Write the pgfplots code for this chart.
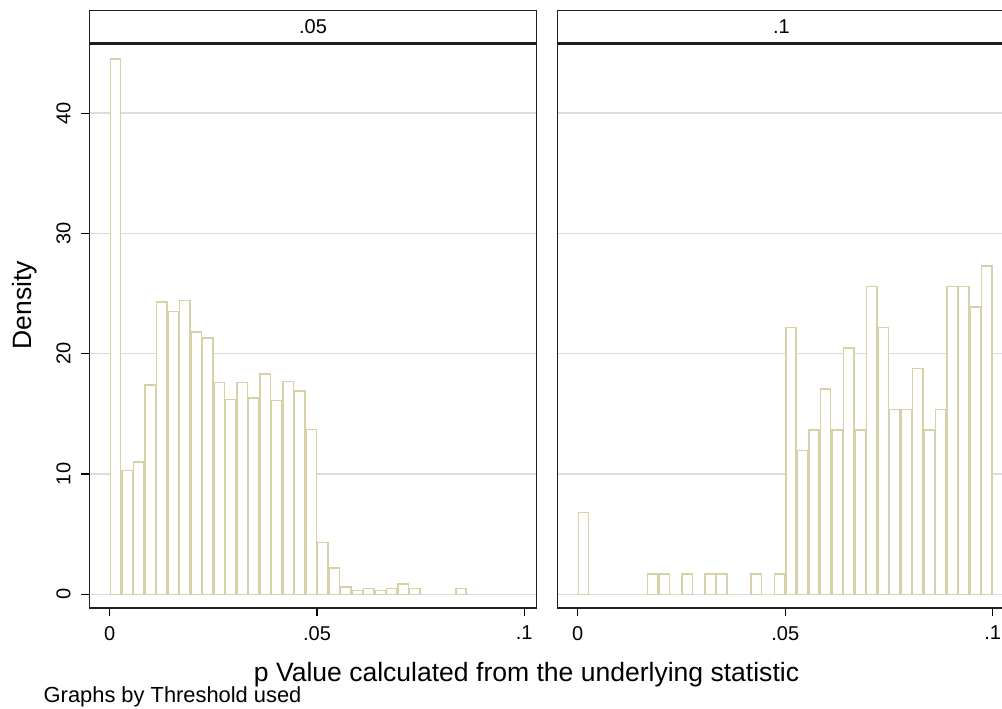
\documentclass[border=0pt]{standalone}
\usepackage{fontspec}
\setmainfont{Liberation Sans}
\usepackage{pgfplots}
\pgfplotsset{compat=1.18}
\usepackage{pgfplotstable}
\definecolor{barline}{RGB}{214,209,166}
\definecolor{gridc}{RGB}{220,220,220}
\definecolor{framec}{RGB}{30,30,30}

\pgfplotstableread{
x y
0.001389 44.5
0.004167 10.3
0.006944 11.0
0.009722 17.4
0.012500 24.3
0.015278 23.5
0.018056 24.4
0.020833 21.8
0.023611 21.3
0.026389 17.6
0.029167 16.2
0.031944 17.6
0.034722 16.3
0.037500 18.3
0.040278 16.1
0.043056 17.7
0.045833 16.9
0.048611 13.7
0.051389 4.3
0.054167 2.2
0.056944 0.6
0.059722 0.33
0.062500 0.47
0.065278 0.33
0.068056 0.47
0.070833 0.86
0.073611 0.47
0.084722 0.47
}\lefttab

\pgfplotstableread{
x y
0.001389 6.82
0.018056 1.705
0.020833 1.705
0.026389 1.705
0.031944 1.705
0.034722 1.705
0.043056 1.705
0.048611 1.705
0.051389 22.17
0.054167 11.94
0.056944 13.64
0.059722 17.05
0.062500 13.64
0.065278 20.46
0.068056 13.64
0.070833 25.58
0.073611 22.17
0.076389 15.35
0.079167 15.35
0.081944 18.76
0.084722 13.64
0.087500 15.35
0.090278 25.58
0.093056 25.58
0.095833 23.87
0.098611 27.28
}\righttab

\pgfplotsset{
  panel/.style={
    scale only axis, width=335.55pt, height=423pt,
    xmax=0.1030, ymin=-1.14, ymax=45.74,
    axis line style={draw=framec, line width=1pt},
    ytick={0,10,20,30,40}, xtick={0,0.05,0.1}, xticklabels={0,.05,.1},
    ymajorgrids, grid style={draw=gridc, line width=1.1pt},
    tick align=outside, major tick length=6pt,
    tick style={draw=black, line width=0.8pt},
    xtick pos=bottom, ytick pos=left,
    /pgf/number format/assume math mode=true,
    ticklabel style={font=\fontsize{15}{18}\selectfont, text=black},
    xticklabel style={yshift=-4pt},
    ybar, bar width=0.0025,
    title style={at={(0.5,1)}, anchor=south, draw=framec, line width=1pt, fill=white,
      minimum width=335.55pt, minimum height=24pt, inner sep=0pt, yshift=-5.5pt,
      font=\fontsize{15}{18}\selectfont},
  }
}

\begin{document}
\begin{tikzpicture}
\useasboundingbox (0,0) rectangle (751.5pt,531pt);
\begin{axis}[panel, at={(66.98pt,75pt)}, anchor=south west, xmin=-0.00494, title={.05},
  yticklabel style={xshift=-4.5pt, rotate=90, anchor=south}]
\addplot[ybar, bar width=0.0025, draw=barline, fill=white, line width=1.1pt] table[x=x, y=y] {\lefttab};
\end{axis}
\begin{axis}[panel, at={(418.3pt,75pt)}, anchor=south west, xmin=-0.00482, title={.1},
  yticklabels={}, ytick style={draw=none}]
\addplot[ybar, bar width=0.0025, draw=barline, fill=white, line width=1.1pt] table[x=x, y=y] {\righttab};
\end{axis}
\node[rotate=90, font=\fontsize{19.9}{23}\selectfont] at (18.75pt,302.25pt) {Density};
\node[anchor=base, inner sep=0pt, font=\fontsize{19.9}{23}\selectfont] at (394.9pt,19.7pt) {p Value calculated from the underlying statistic};
\node[anchor=base west, inner sep=0pt, font=\fontsize{16.4}{19}\selectfont] at (32.6pt,3.9pt) {Graphs by Threshold used};
\end{tikzpicture}
\end{document}
